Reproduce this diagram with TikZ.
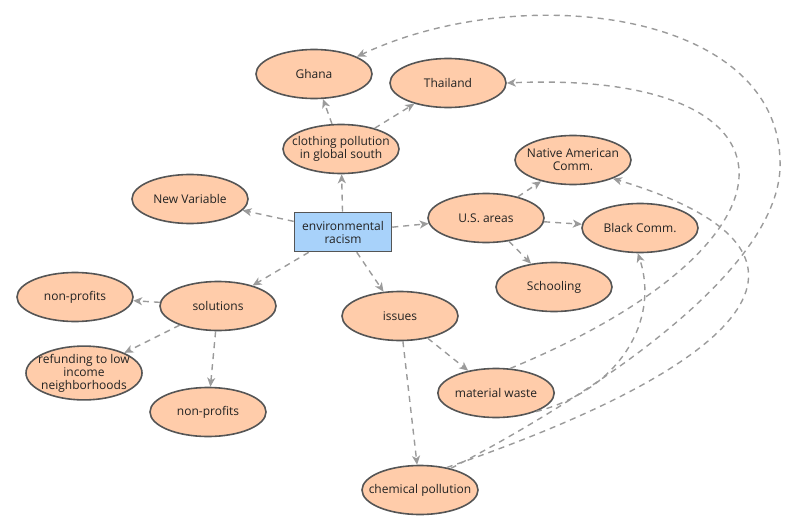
\documentclass[tikz,border=0pt]{standalone}
\usepackage{fontspec}
\setmainfont{Open Sans}
\usetikzlibrary{shapes.geometric,arrows.meta}
\definecolor{peach}{RGB}{255,204,170}
\definecolor{boxblue}{RGB}{168,210,250}
\definecolor{bord}{RGB}{85,85,85}
\definecolor{edgegray}{RGB}{155,155,155}
\definecolor{txt}{RGB}{34,34,34}
\newcommand{\zl}[1]{\makebox[0pt][c]{#1}}
\begin{document}
\begin{tikzpicture}[x=1pt,y=-1pt,
  el/.style={ellipse,draw=bord,line width=1.6pt,fill=peach,minimum width=116pt,minimum height=49pt,inner sep=0pt,align=center,font=\fontsize{12}{13}\selectfont,text=txt},
  bx/.style={rectangle,draw=bord,line width=1.6pt,fill=boxblue,minimum width=97pt,minimum height=39pt,inner sep=0pt,align=center,font=\fontsize{12}{13}\selectfont,text=txt},
  ed/.style={draw=edgegray,line width=1.4pt,dash pattern=on 6pt off 5pt,-{Stealth[length=9pt,width=8pt,inset=2.5pt]}}]
\useasboundingbox (0,0) rectangle (800,527);
\node[el] (gh) at (314,74) {Ghana};
\node[el] (th) at (448,83) {Thailand};
\node[el] (cl) at (341,149) {\zl{clothing pollution}\\\zl{in global south}};
\node[el] (nv) at (190,199) {New Variable};
\node[bx] (env) at (343,232) {environmental\\racism};
\node[el] (us) at (486,218) {U.S. areas};
\node[el] (bc) at (640,228) {Black Comm.};
\node[el] (na) at (573,160) {\zl{Native American}\\\zl{Comm.}};
\node[el] (sc) at (554,287) {Schooling};
\node[el] (so) at (218,306) {solutions};
\node[el] (np1) at (75,297) {non-profits};
\node[el] (rf) at (84,373) {\zl{refunding to low}\\\zl{income}\\\zl{neighborhoods}};
\node[el] (np2) at (208,412) {non-profits};
\node[el] (is) at (400,316) {issues};
\node[el] (mw) at (496,393) {material waste};
\node[el] (cp) at (420,490) {\zl{chemical pollution}};
\draw[ed] (env) -- (cl);
\draw[ed] (env) -- (nv);
\draw[ed] (env) -- (us);
\draw[ed] (env) -- (so);
\draw[ed] (env) -- (is);
\draw[ed] (cl) -- (gh);
\draw[ed] (cl) -- (th);
\draw[ed] (us) -- (na);
\draw[ed] (us) -- (bc);
\draw[ed] (us) -- (sc);
\draw[ed] (so) -- (np1);
\draw[ed] (so) -- (rf);
\draw[ed] (so) -- (np2);
\draw[ed] (is) -- (mw);
\draw[ed] (is) -- (cp);
\draw[ed] (mw.60) .. controls (820,240) and (810,70) .. (th.east);
\draw[ed] (mw.-25) .. controls (620,390) and (660,320) .. (bc.-95);
\draw[ed] (cp.40) .. controls (760,360) and (850,250) .. (na.-25);
\draw[ed] (cp.35) .. controls (620,380) and (785,260) .. (780,160) .. controls (776,10) and (520,-20) .. (gh.22);
\end{tikzpicture}
\end{document}
